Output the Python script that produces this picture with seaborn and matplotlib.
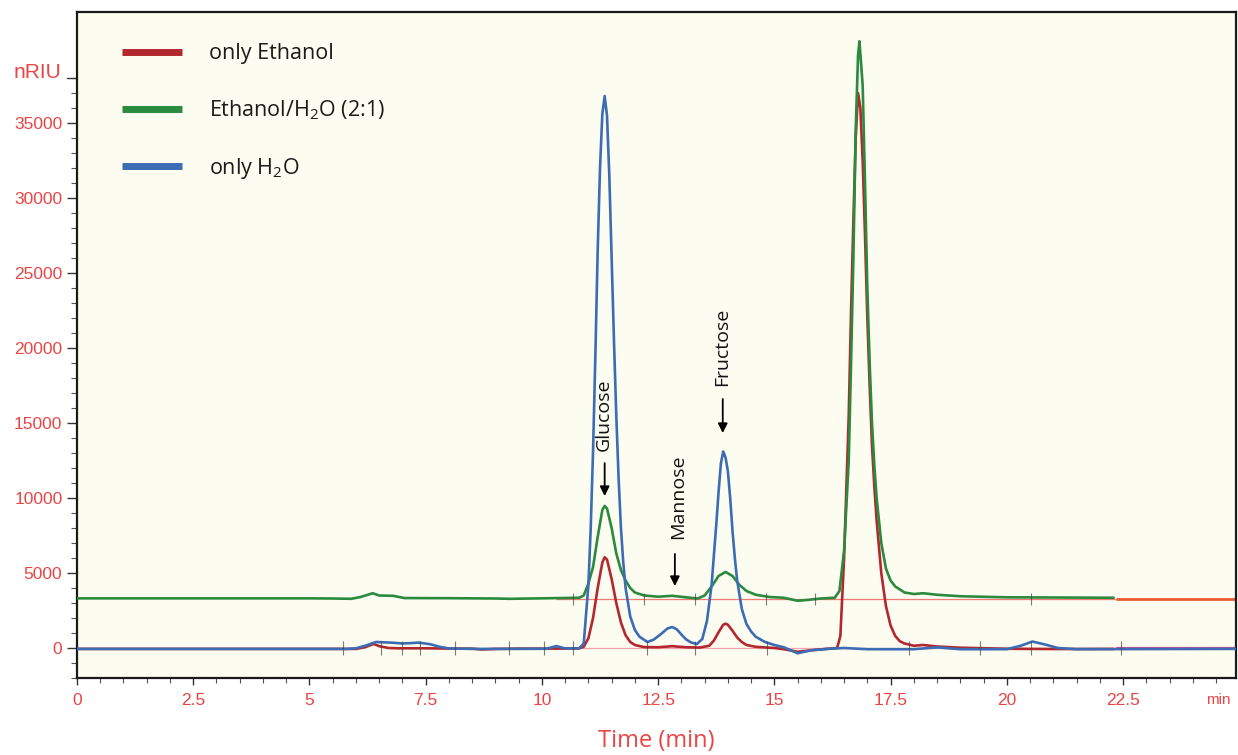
import numpy as np
import pandas as pd
import matplotlib
matplotlib.use("Agg")
import matplotlib.pyplot as plt
import matplotlib.transforms as mtransforms
from matplotlib.lines import Line2D
import seaborn as sns

# ---------------- data ----------------
series_names = ["only Ethanol", "Ethanol/H$_\\mathregular{2}$O (2:1)", "only H$_\\mathregular{2}$O"]
series_colors = ["#b3282e", "#2b8a3d", "#3c6cb4"]

ethanol_time = [0, 5.0, 5.5, 6.0, 6.2, 6.38, 6.5, 6.7, 6.9, 7.5, 8.0, 8.5, 8.7, 9.0, 9.5, 10.0,
                10.5, 10.8, 10.9, 11.0, 11.1, 11.2, 11.3, 11.35, 11.4, 11.5, 11.6, 11.7, 11.8,
                11.9, 12.0, 12.2, 12.5, 12.8, 13.1, 13.4, 13.6, 13.7, 13.8, 13.9, 13.95, 14.0,
                14.1, 14.2, 14.3, 14.4, 14.6, 15.0, 15.2, 15.5, 15.8, 16.1, 16.35, 16.42, 16.5,
                16.6, 16.65, 16.7, 16.75, 16.8, 16.85, 16.9, 16.95, 17.0, 17.05, 17.1, 17.15, 17.2,
                17.3, 17.4, 17.5, 17.6, 17.7, 17.8, 18.0, 18.2, 18.5, 19.0, 20.0, 21.0, 22.3]
ethanol_signal = [-60, -60, -60, -60, 50, 270, 120, 0, -20, -20, -40, -40, -100, -60, -40, -40,
                  -40, -20, 80, 650, 2000, 4000, 5700, 6050, 5900, 4600, 3000, 1700, 850,
                  400, 200, 60, 50, 120, 50, 30, 150, 500, 1050, 1550, 1620, 1550,
                  1150, 700, 400, 200, 80, 0, -80, -250, -150, -60, 0, 800, 6000,
                  15500, 22500, 28500, 34000, 37000, 36000, 32500, 27500, 22000, 17500, 13500, 10800, 8500,
                  5000, 2800, 1500, 800, 450, 300, 150, 200, 100, 20, -50, -70, -60]

mix_time = [0, 5.0, 5.5, 5.9, 6.1, 6.36, 6.5, 6.8, 7.04, 8.0, 9.0, 9.3, 10.0, 10.8, 10.9, 11.0,
            11.1, 11.2, 11.3, 11.35, 11.4, 11.5, 11.6, 11.7, 11.8, 11.9, 12.0, 12.2, 12.5, 12.8,
            13.1, 13.35, 13.5, 13.65, 13.8, 13.95, 14.1, 14.25, 14.4, 14.6, 14.9, 15.2, 15.5,
            15.7, 16.0, 16.3, 16.4, 16.5, 16.6, 16.65, 16.7, 16.75, 16.8, 16.83, 16.9, 16.95,
            17.0, 17.05, 17.1, 17.15, 17.2, 17.3, 17.4, 17.5, 17.6, 17.8, 18.0, 18.2, 18.5,
            19.0, 20.0, 22.3]
mix_signal = [3310, 3310, 3300, 3280, 3400, 3650, 3500, 3480, 3330, 3320, 3300, 3280, 3310, 3350,
              3500, 4300, 5400, 7400, 9200, 9470, 9300, 8000, 6300, 5200, 4500, 4000, 3700, 3500,
              3420, 3480, 3380, 3300, 3500, 4100, 4800, 5070, 4800, 4200, 3800, 3550, 3400, 3350,
              3150, 3200, 3300, 3350, 3800, 6500, 12500, 19000, 26000, 34500, 39500, 40450, 37500,
              31000, 24000, 19000, 15000, 12200, 10000, 7000, 5300, 4500, 4100, 3700, 3600, 3650,
              3550, 3450, 3380, 3350]

water_time = [0, 5.0, 5.8, 6.0, 6.2, 6.43, 6.6, 6.8, 7.0, 7.15, 7.35, 7.6, 7.8, 8.0, 8.5, 9.0,
              9.5, 10.1, 10.31, 10.5, 10.8, 10.9, 11.0, 11.05, 11.1, 11.15, 11.2, 11.25, 11.3,
              11.35, 11.4, 11.45, 11.5, 11.55, 11.6, 11.65, 11.7, 11.75, 11.8, 11.9, 12.0, 12.1,
              12.27, 12.4, 12.55, 12.7, 12.8, 12.9, 13.0, 13.1, 13.2, 13.33, 13.45, 13.55, 13.65,
              13.75, 13.8, 13.85, 13.9, 13.95, 14.0, 14.05, 14.1, 14.15, 14.2, 14.3, 14.4, 14.5,
              14.6, 14.8, 15.0, 15.2, 15.5, 15.8, 16.2, 16.5, 17.0, 18.0, 18.5, 19.0, 20.0, 20.3,
              20.55, 20.8, 21.1, 21.5, 24.92]
water_signal = [-60, -60, -60, -20, 150, 400, 380, 350, 300, 320, 360, 250, 80, -30, -60, -60,
                -60, -50, 130, -30, -30, 300, 4200, 8000, 13100, 19500, 26500, 32000, 35600,
                36800, 35500, 31500, 26000, 20500, 15500, 11300, 8000, 5700, 4000, 2100, 1200, 750,
                400, 550, 900, 1300, 1400, 1250, 900, 580, 380, 260, 600, 1800, 4200,
                8200, 10400, 12300, 13100, 12700, 11800, 10000, 7800, 6000, 4500, 2600, 1600, 1100,
                750, 400, 200, 50, -350, -150, -50, 0, -80, -80, 40, -80, -80, 150,
                430, 250, 0, -80, -60]

# integration baselines drawn by the instrument software
baseline_levels = [0, 3300]
baseline_start = 10.3
baseline_end = 22.35
run_end = 24.92

# integration event marks (time, level)
event_times = [5.73, 6.53, 7.0, 7.38, 8.14, 9.29, 10.05, 10.67, 12.26, 13.3, 14.85, 17.9, 19.43, 20.53, 22.46]
event_levels = [0, 0, 0, 0, 0, 0, 0, 0, 0, 0, 0, 0, 0, 0, 0]
event_times_up = [10.67, 12.2, 13.3, 14.82, 15.88, 20.53]
event_levels_up = [3300, 3300, 3300, 3300, 3300, 3300]

peak_labels = ["Glucose", "Mannose", "Fructose"]
peak_label_x = [11.32, 12.92, 13.87]
peak_label_y = [13150, 7270, 17470]
arrow_x = [11.35, 12.86, 13.89]
arrow_tail = [12330, 6270, 16600]
arrow_tip = [10130, 4130, 14330]

x_major = [0, 2.5, 5, 7.5, 10, 12.5, 15, 17.5, 20, 22.5]
x_major_labels = ["0", "2.5", "5", "7.5", "10", "12.5", "15", "17.5", "20", "22.5"]
y_major = [0, 5000, 10000, 15000, 20000, 25000, 30000, 35000]

# ---------------- styling ----------------
sns.set_style("ticks")
plt.rcParams['font.family'] = ['Open Sans', 'DejaVu Sans']
plt.rcParams['mathtext.fontset'] = 'custom'
plt.rcParams['mathtext.rm'] = 'Open Sans'
plt.rcParams['mathtext.it'] = 'Open Sans'
plt.rcParams['mathtext.bf'] = 'Open Sans'

red_text = "#ea4444"

df = pd.concat([
    pd.DataFrame({"time": ethanol_time, "signal": ethanol_signal, "series": series_names[0]}),
    pd.DataFrame({"time": mix_time, "signal": mix_signal, "series": series_names[1]}),
    pd.DataFrame({"time": water_time, "signal": water_signal, "series": series_names[2]}),
], ignore_index=True)

fig = plt.figure(figsize=(12.38, 7.55), dpi=100)
fig.patch.set_facecolor("white")
ax = fig.add_axes([77 / 1238, 77 / 755, (1236 - 77) / 1238, (678 - 12) / 755])
ax.set_facecolor("#fcfcf0")

# thin instrument baselines
ax.hlines(baseline_levels[0], baseline_start, baseline_end, color="#f3a3b0", lw=0.9, zorder=1)
ax.hlines(baseline_levels[1], baseline_start, baseline_end, color="#f27a72", lw=0.9, zorder=1)
ax.hlines(baseline_levels[1], baseline_end, run_end, color="#f05a2e", lw=2.0, zorder=1)
ax.hlines(baseline_levels[0], baseline_end, run_end, color="#d04f9a", lw=1.6, zorder=1)

sns.lineplot(data=df, x="time", y="signal", hue="series", hue_order=series_names,
             palette=dict(zip(series_names, series_colors)), estimator=None, sort=False,
             lw=1.9, ax=ax, legend=False, zorder=3)
for ln in ax.get_lines():
    ln.set_solid_joinstyle("round")

# event marks
ax.vlines(event_times, np.array(event_levels) - 450, np.array(event_levels) + 450,
          color="#444444", lw=0.8, alpha=0.7, zorder=4)
ax.vlines(event_times_up, np.array(event_levels_up) - 400, np.array(event_levels_up) + 400,
          color="#444444", lw=0.8, alpha=0.7, zorder=4)

# peak annotations
for lab, lx, ly, axx, at, ap in zip(peak_labels, peak_label_x, peak_label_y, arrow_x, arrow_tail, arrow_tip):
    ax.annotate("", xy=(axx, ap), xytext=(axx, at),
                arrowprops=dict(arrowstyle="-|>", color="black", lw=1.3,
                                mutation_scale=14, shrinkA=0, shrinkB=0), zorder=5)
    ax.text(lx, ly, lab, rotation=90, ha="center", va="bottom", fontsize=14,
            color="#111111", zorder=5)

# axes limits and ticks
ax.set_xlim(0, 24.93)
ax.set_ylim(-2000, 42400)
ax.set_xticks(x_major)
ax.set_xticklabels(x_major_labels)
ax.set_xticks(np.arange(0, 24.93, 0.5), minor=True)
ax.set_yticks(y_major)
ax.set_yticks(np.arange(-2000, 38001, 1000), minor=True)
ax.tick_params(axis="both", which="major", labelsize=12.5, labelcolor=red_text, color="#333333")
ax.tick_params(axis="y", which="major", length=7, width=1, pad=3.5)
ax.tick_params(axis="y", which="minor", length=4.5, width=0.8, color="#555555")
ax.tick_params(axis="x", which="major", length=5, width=1, pad=6)
ax.tick_params(axis="x", which="minor", length=3.5, width=0.8, color="#555555")
for lbl in ax.get_xticklabels() + ax.get_yticklabels():
    lbl.set_family("Liberation Sans")

for side in ["left", "bottom", "top", "right"]:
    ax.spines[side].set_visible(True)
    ax.spines[side].set_color("#1a1a1a")
    ax.spines[side].set_linewidth(1.6)

ax.set_ylabel("")
ax.set_xlabel("Time (min)", fontsize=17, color=red_text, labelpad=15)

trans = mtransforms.blended_transform_factory(ax.transAxes, ax.transData)
ax.text(-0.0135, 38400, "nRIU", transform=trans, ha="right", va="center",
        fontsize=15, color=red_text, family="Liberation Sans")
ax.plot([-0.0086, 0], [38000, 38000], transform=trans, color="#333333", lw=1, clip_on=False)
ax.text(0.985, -0.033, "min", transform=ax.transAxes, ha="center", va="center",
        fontsize=11, color=red_text, family="Liberation Sans")

handles = [Line2D([0], [0], color=c, lw=5, solid_capstyle="butt") for c in series_colors]
leg = ax.legend(handles, series_names, loc="upper left", bbox_to_anchor=(0.039, 0.953),
                frameon=False, fontsize=15.5, handlelength=2.8, handletextpad=1.25,
                labelspacing=1.58, borderpad=0, borderaxespad=0)
for t in leg.get_texts():
    t.set_color("#1a1a1a")

fig.savefig("out.png", dpi=100, facecolor="white")
